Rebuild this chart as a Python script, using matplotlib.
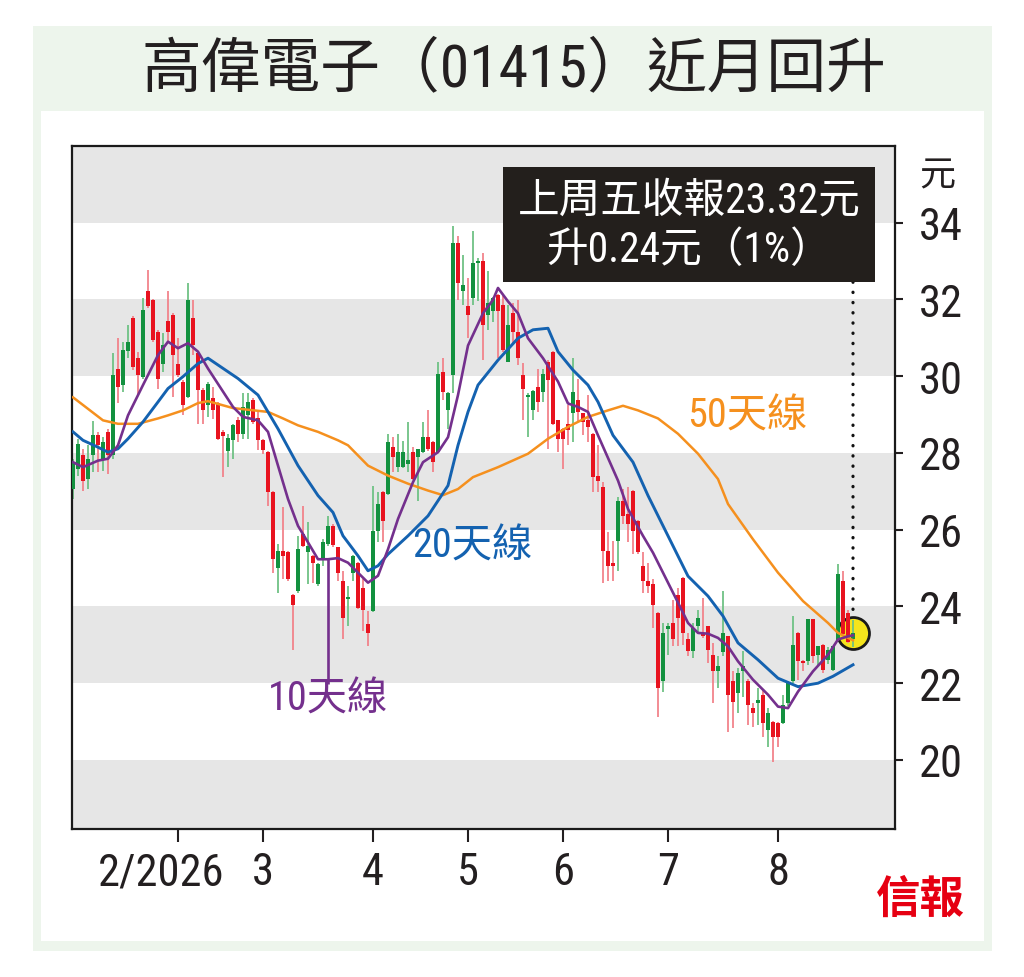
import numpy as np
import matplotlib
matplotlib.use("Agg")
import matplotlib.pyplot as plt
import matplotlib.transforms as mtransforms
from matplotlib.patches import Rectangle
from matplotlib import font_manager

# daily OHLC (Jan - Aug 2026)
opens = [27.06, 27.59, 27.94, 27.33, 27.94, 28.46, 27.85, 28.55, 27.94, 30.2,
         29.77, 30.66, 31.53, 30.48, 29.99, 32.21, 31.99, 31.15, 30.33, 31.43,
         31.6, 30.31, 29.85, 29.46, 31.53, 30.6, 29.64, 29.24, 29.42, 29.29,
         28.55, 28.04, 28.33, 28.85, 28.5, 28.98, 29.38, 28.9, 28.33, 28.02,
         26.97, 25.01, 25.45, 25.43, 24.31, 24.4, 25.88, 25.41, 25.32, 24.58,
         25.23, 25.62, 26.1, 25.54, 24.66, 24.2, 24.88, 25.14, 24.49, 23.53,
         23.88, 25.97, 26.98, 26.93, 28.15, 27.63, 27.63, 27.72, 28.02, 27.89,
         28.02, 28.41, 28.28, 28.02, 30.12, 29.11, 30.03, 33.48, 32.23, 31.82,
         32.04, 32.95, 33.0, 31.6, 31.69, 32.12, 31.86, 30.38, 31.65, 31.16,
         30.03, 29.46, 29.11, 29.72, 29.59, 30.38, 30.64, 28.85, 28.63, 28.76,
         29.03, 29.38, 29.03, 28.85, 28.5, 27.41, 27.11, 25.45, 25.14, 25.71,
         26.76, 26.41, 27.02, 26.23, 25.05, 24.66, 24.58, 23.83, 22.05, 23.4,
         23.57, 24.31, 24.75, 23.14, 22.83, 23.48, 23.31, 23.48, 22.74, 22.31,
         22.8, 23.22, 22.05, 21.74, 22.31, 22.05, 21.35, 21.48, 21.7, 20.78,
         21.0, 20.96, 20.96, 21.48, 22.05, 23.31, 22.57, 22.57, 23.66, 22.74,
         23.0, 22.61, 22.35, 23.13, 24.66, 23.83, 23.15]
highs = [27.85, 28.37, 28.11, 28.2, 28.83, 28.55, 28.42, 28.63, 30.6, 30.99,
         30.9, 31.34, 31.56, 30.64, 32.04, 32.78, 32.0, 31.2, 31.12, 32.21,
         31.65, 30.99, 29.9, 32.43, 31.99, 30.65, 29.7, 29.85, 29.72, 29.33,
         28.59, 28.5, 28.76, 28.94, 29.55, 29.55, 29.42, 29.07, 28.37, 28.05,
         27.0, 25.62, 26.58, 25.45, 24.33, 25.84, 26.63, 26.19, 25.35, 25.14,
         25.75, 26.36, 26.15, 25.56, 24.93, 24.53, 25.34, 25.16, 24.71, 23.88,
         27.15, 26.98, 27.0, 28.5, 28.41, 28.5, 28.3, 28.81, 28.15, 28.1,
         28.81, 29.11, 28.3, 30.38, 30.47, 29.6, 33.91, 33.65, 33.17, 32.56,
         33.78, 33.08, 33.2, 32.73, 32.06, 32.14, 32.08, 31.86, 31.9, 31.99,
         30.34, 29.55, 29.63, 30.2, 30.2, 30.42, 30.66, 28.87, 28.65, 29.24,
         30.47, 29.94, 29.05, 29.51, 28.52, 28.2, 27.24, 25.93, 25.71, 26.84,
         27.06, 27.1, 27.04, 26.25, 25.41, 25.14, 24.71, 23.85, 23.57, 23.57,
         24.18, 24.49, 24.77, 23.31, 23.57, 23.92, 24.23, 23.5, 23.05, 22.7,
         24.4, 23.24, 22.31, 22.39, 22.83, 22.1, 21.48, 21.87, 21.83, 21.35,
         21.02, 20.98, 21.7, 22.05, 23.74, 23.33, 22.6, 23.68, 23.68, 22.98,
         23.02, 22.95, 22.98, 25.1, 24.92, 23.92, 23.65]
lows = [26.8, 27.41, 27.02, 27.06, 27.5, 27.5, 27.54, 27.46, 27.85, 29.29,
        29.59, 30.47, 30.16, 29.51, 29.94, 31.78, 30.9, 29.68, 30.12, 30.86,
        29.46, 29.98, 28.98, 29.42, 30.55, 28.76, 28.76, 28.94, 28.89, 28.33,
        27.37, 27.63, 27.85, 28.28, 28.37, 28.37, 28.76, 28.07, 27.98, 26.63,
        24.88, 24.36, 24.71, 24.66, 22.87, 24.36, 25.54, 24.58, 24.62, 24.53,
        25.05, 25.58, 25.54, 24.66, 23.14, 23.48, 24.66, 23.94, 23.35, 22.96,
        23.86, 25.67, 25.67, 26.9, 27.5, 27.5, 27.6, 27.5, 27.3, 26.76,
        28.0, 28.05, 27.5, 28.0, 29.38, 28.63, 29.55, 31.99, 31.86, 30.99,
        31.86, 31.95, 30.42, 31.2, 31.42, 30.47, 30.64, 30.36, 30.82, 30.29,
        28.85, 28.41, 28.85, 29.07, 29.33, 28.11, 28.72, 28.02, 27.59, 28.2,
        28.28, 28.81, 28.46, 28.28, 26.98, 26.98, 24.62, 24.66, 24.66, 24.93,
        26.15, 25.67, 25.36, 25.36, 24.36, 24.36, 23.44, 21.13, 21.78, 22.74,
        22.96, 22.96, 23.0, 22.7, 22.66, 23.31, 23.18, 22.53, 21.48, 21.87,
        22.7, 20.74, 20.82, 21.22, 21.65, 20.91, 20.87, 20.91, 20.6, 20.35,
        19.95, 20.35, 20.94, 21.4, 22.0, 22.09, 22.31, 22.48, 22.53, 22.44,
        22.26, 22.5, 22.33, 23.1, 23.25, 23.06, 22.95]
closes = [27.76, 28.24, 27.28, 27.85, 28.48, 28.2, 28.29, 27.94, 30.03, 29.72,
          30.68, 30.9, 30.25, 30.03, 31.73, 31.82, 30.95, 29.94, 30.81, 31.16,
          30.55, 30.03, 29.24, 31.99, 30.81, 29.64, 29.11, 29.81, 29.11, 28.37,
          28.44, 28.39, 28.72, 28.5, 29.2, 29.33, 28.81, 28.33, 28.07, 26.97,
          25.23, 25.45, 25.32, 24.71, 24.05, 25.51, 25.58, 25.58, 25.14, 25.1,
          25.67, 26.1, 25.6, 24.88, 23.7, 24.23, 25.32, 23.96, 23.92, 23.31,
          25.97, 26.67, 26.23, 28.28, 27.89, 28.02, 28.02, 27.81, 27.32, 28.1,
          28.41, 28.11, 27.76, 30.07, 29.59, 29.55, 33.48, 32.43, 32.39, 31.6,
          32.95, 33.0, 31.34, 31.9, 32.04, 31.69, 30.68, 31.34, 31.16, 30.47,
          29.68, 29.51, 29.61, 29.33, 30.07, 29.9, 28.76, 28.37, 28.37, 28.59,
          29.59, 29.07, 28.81, 28.68, 27.37, 27.28, 25.45, 25.05, 25.05, 26.76,
          26.36, 26.15, 25.97, 25.41, 24.66, 24.53, 24.05, 21.87, 23.31, 23.48,
          23.14, 23.7, 23.31, 22.83, 23.44, 23.7, 23.22, 22.87, 22.31, 22.44,
          23.3, 21.7, 21.52, 22.26, 22.44, 21.44, 21.22, 21.57, 20.96, 21.22,
          20.6, 20.6, 21.44, 22.0, 23.0, 22.57, 22.53, 23.66, 22.7, 22.96,
          22.35, 22.87, 22.96, 24.84, 23.27, 23.08, 23.32]

# moving averages, sampled off the chart at these trading-day indices
ma50_days = [0, 6, 9, 13, 17, 19, 22, 25, 27, 32, 39, 42, 45, 49, 53, 55, 59, 63, 67, 71,
             74, 77, 80, 85, 91, 95, 99, 103, 107, 110, 113, 117, 121, 125, 129, 131, 136,
             141, 146, 151, 153, 156]
ma50 = [29.45, 28.85, 28.76, 28.76, 28.9, 28.98, 29.11, 29.3, 29.35, 29.17, 29.07, 28.9,
        28.72, 28.55, 28.33, 28.2, 27.67, 27.41, 27.2, 27.02, 26.9, 27.06, 27.37, 27.63,
        27.98, 28.37, 28.68, 28.94, 29.11, 29.23, 29.11, 28.9, 28.5, 27.98, 27.32, 26.67,
        25.75, 24.88, 24.14, 23.57, 23.31, 23.12]
ma20_days = [0, 2, 5, 7, 9, 11, 14, 17, 19, 22, 25, 27, 33, 37, 41, 45, 49, 52, 54, 57,
             59, 61, 63, 67, 71, 75, 77, 79, 81, 85, 89, 92, 95, 97, 100, 103, 105, 108, 112,
             115, 119, 123, 127, 130, 133, 137, 141, 145, 149, 152, 156]
ma20 = [28.55, 28.33, 28.15, 28.02, 28.11, 28.37, 28.81, 29.33, 29.68, 29.99, 30.33, 30.47,
        29.94, 29.51, 28.63, 27.67, 26.89, 26.45, 25.84, 25.32, 24.93, 25.06, 25.36, 25.84,
        26.36, 27.15, 28.2, 29.07, 29.77, 30.42, 30.99, 31.21, 31.25, 30.64, 30.16, 29.77,
        29.33, 28.46, 27.76, 26.89, 25.84, 24.79, 24.27, 23.75, 23.05, 22.61, 22.13, 21.91,
        22.0, 22.18, 22.48]
ma10_days = [0, 2, 5, 7, 9, 11, 14, 17, 19, 21, 23, 25, 27, 32, 34, 37, 39, 41, 43, 45,
             47, 49, 51, 53, 55, 59, 61, 63, 65, 68, 70, 73, 75, 77, 79, 82, 84, 85, 87, 89,
             91, 94, 97, 99, 101, 103, 105, 109, 111, 114, 116, 118, 121, 123, 125, 127, 129,
             131, 133, 136, 139, 141, 143, 145, 148, 151, 153, 155, 156]
ma10 = [27.76, 27.63, 27.8, 27.85, 28.2, 28.98, 29.77, 30.55, 30.9, 30.73, 30.86, 30.64,
        30.2, 29.2, 28.94, 28.85, 28.55, 27.67, 26.8, 26.1, 25.67, 25.23, 25.23, 25.26,
        25.14, 24.62, 24.8, 25.49, 26.28, 27.24, 27.76, 28.02, 28.41, 29.51, 30.8, 31.64,
        31.99, 32.3, 31.95, 31.64, 30.99, 30.47, 29.86, 29.29, 29.2, 29.07, 28.46, 27.28,
        26.54, 25.84, 25.4, 24.88, 24.1, 23.57, 23.31, 23.29, 23.18, 22.96, 22.57, 22.09,
        21.7, 21.39, 21.35, 21.78, 22.31, 22.74, 23.14, 23.22, 23.25]
ma10_glitch_day = 51
ma10_glitch_low = 21.98

month_ticks = [21, 38, 60, 79, 98, 119, 141]
month_labels = ["2/2026", "3", "4", "5", "6", "7", "8"]
y_ticks = [20, 22, 24, 26, 28, 30, 32, 34]
band_lows = [18, 22, 26, 30, 34]

title = "高偉電子（01415）近月回升"

GREEN_BG = "#edf5ec"
BAND = "#e6e6e6"
UP, DOWN = "#13913f", "#e8131f"
UP_WICK, DOWN_WICK = "#6fc285", "#f2838b"
ORANGE, BLUE, PURPLE = "#f5901e", "#1462b0", "#74308d"
INK = "#231f20"

# a narrow sans for the numbers, like the original artwork
names = {f.name for f in font_manager.fontManager.ttflist}
NUM = "DejaVu Sans"
for cand in ["Liberation Sans Narrow", "Arial Narrow", "Roboto Condensed", "Archivo Narrow",
             "Fira Sans Condensed", "IBM Plex Sans Condensed", "Encode Sans Condensed",
             "Barlow Semi Condensed", "PT Sans Narrow", "Roboto"]:
    if cand in names:
        NUM = cand
        break
k = 0.8 if NUM in ("DejaVu Sans", "Roboto") else 1.0
CJK = ["Noto Sans CJK TC", "DejaVu Sans"]
FAM = [NUM] + CJK
plt.rcParams["font.family"] = FAM

fig = plt.figure(figsize=(10.24, 9.78), dpi=100)
W, H = 1024, 978
fig.add_artist(Rectangle((33 / W, 1 - 952 / H), 959 / W, 925 / H,
                         transform=fig.transFigure, facecolor=GREEN_BG, lw=0, zorder=-5))
fig.add_artist(Rectangle((41 / W, 1 - 942 / H), 943 / W, 830 / H,
                         transform=fig.transFigure, facecolor="white", lw=0, zorder=-4))
fig.text(514 / W, 1 - 70 / H, title, ha="center", va="center", fontsize=43, color=INK)
fig.text(920 / W, 1 - 900 / H, "信報", ha="center", va="center", fontsize=32,
         fontweight="bold", color="#e60012", family=CJK)

ax = fig.add_axes([72 / W, 1 - 830 / H, 823 / W, 683 / H])

for b in band_lows:
    ax.axhspan(b, b + 2, color=BAND, lw=0, zorder=0)

o = np.array(opens)
h = np.array(highs)
l = np.array(lows)
c = np.array(closes)
days = np.arange(len(c))
up = c >= o

ax.vlines(days, l, h, colors=np.where(up, UP_WICK, DOWN_WICK), lw=1.3, zorder=2)
ax.bar(days, np.maximum(np.abs(c - o), 0.05), bottom=np.minimum(o, c), width=0.62,
       color=np.where(up, UP, DOWN), lw=0, zorder=3)

# last close marker
ax.plot(days[-1], c[-1], "o", ms=23, mfc="#f4e41c", mec="#1a1a1a", mew=2, zorder=1.5)

ax.plot(ma50_days, ma50, color=ORANGE, lw=1.8, zorder=4)
ax.plot(ma20_days, ma20, color=BLUE, lw=2.1, zorder=4)
ax.plot(ma10_days, ma10, color=PURPLE, lw=1.9, zorder=4)
ax.vlines(ma10_glitch_day, ma10_glitch_low, ma10[ma10_days.index(ma10_glitch_day)],
          color=PURPLE, lw=1.9, zorder=4)

ax.text(0.821, 0.606, "50天線", transform=ax.transAxes, ha="center", va="center",
        fontsize=29, color=ORANGE, zorder=5)
ax.text(0.486, 0.416, "20天線", transform=ax.transAxes, ha="center", va="center",
        fontsize=29, color=BLUE, zorder=5)
ax.text(0.311, 0.192, "10天線", transform=ax.transAxes, ha="center", va="center",
        fontsize=29, color=PURPLE, zorder=5)

# info box and leader to the last close
box_x0, box_y0, box_w, box_h = 0.5237, 0.8009, 0.452, 0.1684
ax.add_patch(Rectangle((box_x0, box_y0), box_w, box_h, transform=ax.transAxes,
                       facecolor="#231f1c", lw=0, zorder=6))
chg = c[-1] - c[-2]
pct = chg / c[-2] * 100
box_fs = 30 * (1 if k == 1.0 else 0.92)
ax.text(box_x0 + box_w / 2, 0.921, f"上周五收報{c[-1]:.2f}元", transform=ax.transAxes,
        ha="center", va="center", fontsize=box_fs, color="white", zorder=7)
ax.text(box_x0 + box_w / 2, 0.848, f"升{chg:.2f}元（{pct:.0f}%）", transform=ax.transAxes,
        ha="center", va="center", fontsize=box_fs, color="white", zorder=7)
ax.annotate("", xy=(days[-1], c[-1]), xycoords="data",
            xytext=(days[-1], box_y0), textcoords=("data", "axes fraction"),
            arrowprops=dict(arrowstyle="-", color="#111111", lw=2.3,
                            linestyle=(0, (0.1, 3.1)), capstyle="round",
                            shrinkA=0, shrinkB=12), zorder=5)

ax.set_xlim(-0.2, 164.4)
ax.set_ylim(18.2, 36.0)
ax.set_facecolor("white")

ax.yaxis.tick_right()
ax.set_yticks(y_ticks)
ax.set_yticklabels([str(v) for v in y_ticks])
ax.tick_params(axis="y", which="both", left=False, right=True, direction="out",
               length=6, width=1.5, pad=11, labelsize=32 * k, colors=INK)
ax.set_xticks(month_ticks)
ax.set_xticklabels(month_labels)
ax.tick_params(axis="x", direction="out", length=9, width=1.5, pad=7,
               labelsize=32 * k, colors=INK)
first = ax.get_xticklabels()[0]
first.set_transform(first.get_transform() +
                    mtransforms.ScaledTranslation(-17 / 100, 0, fig.dpi_scale_trans))

ax.text(1.051, 0.9575, "元", transform=ax.transAxes, ha="center", va="center",
        fontsize=26, color=INK, family=CJK)

for s in ax.spines.values():
    s.set_linewidth(1.6)
    s.set_color("#1a1a1a")

fig.savefig("out.png", dpi=100, facecolor="white")
